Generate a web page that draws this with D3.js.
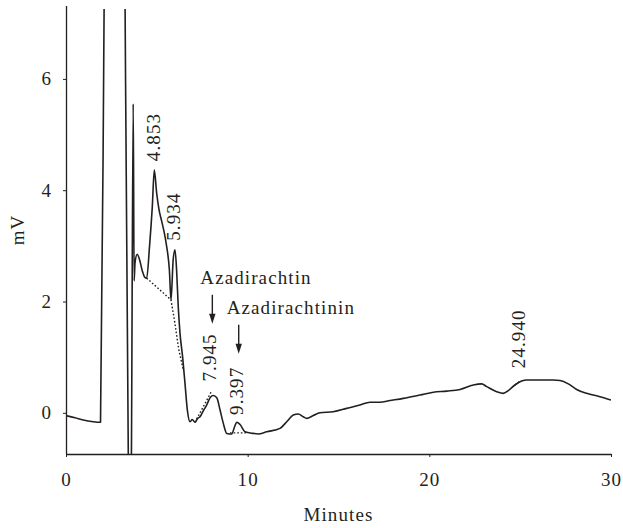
<!DOCTYPE html>
<html>
<head>
<meta charset="utf-8">
<script src="https://cdn.jsdelivr.net/npm/d3@7"></script>
<style>
  html, body { margin: 0; padding: 0; background: #fff; }
  svg text { font-family: "Liberation Serif", "Times New Roman", serif; fill: #231f20; letter-spacing: 1.1px; }
</style>
</head>
<body>
<svg id="chart" width="623" height="528"></svg>
<script>
// ---- data ----
const retentionMin = [0,0.5,0.95,1.5,1.9,2.1,2.7,3.25,3.43,3.5,3.6,3.7,3.75,3.8,3.92,4.05,4.2,4.35,4.44,4.6,4.75,4.86,4.99,5.12,5.27,5.4,5.54,5.69,5.78,5.9,6.0,6.09,6.18,6.27,6.42,6.55,6.68,6.83,6.95,7.1,7.25,7.38,7.55,7.74,7.95,8.11,8.3,8.48,8.66,8.85,9.12,9.28,9.4,9.58,9.85,10.31,10.58,11.05,11.78,12.15,12.51,12.79,13.06,13.25,13.61,13.98,14.71,15.45,16.18,16.73,17.28,17.83,18.57,19.49,20.22,20.96,21.69,22.42,22.88,23.16,23.71,24.07,24.35,24.71,25.08,25.36,26.82,27.19,27.65,28.11,28.66,29.39,30];
const signalMV   = [-0.05,-0.09,-0.13,-0.16,-0.17,7.4,40,7.4,-0.8,-3,-0.8,5.55,2.37,2.7,2.85,2.75,2.55,2.43,2.42,3.0,3.7,4.36,3.95,3.65,3.44,3.25,2.99,2.57,2.03,2.75,2.93,2.55,1.9,1.45,1.0,0.53,0.05,-0.16,-0.12,-0.17,-0.1,-0.07,0.03,0.14,0.28,0.31,0.27,0.05,-0.19,-0.37,-0.38,-0.25,-0.17,-0.21,-0.34,-0.37,-0.38,-0.34,-0.28,-0.16,-0.04,-0.02,-0.07,-0.1,-0.05,0,0.02,0.08,0.14,0.19,0.19,0.22,0.26,0.32,0.37,0.39,0.42,0.5,0.52,0.47,0.38,0.35,0.4,0.5,0.57,0.59,0.59,0.58,0.52,0.42,0.35,0.29,0.23];

// integration baselines (dotted)
const baselineA = [[4.44,2.42],[5.78,2.03],[6.0,1.6],[6.2,1.15],[6.45,0.78]];
const baselineB = [[7.1,-0.17],[8.0,0.38]];
const baselineC = [[9.03,-0.36],[9.95,-0.36]];
const baselineD = [[24.71,0.5],[25.0,0.57]];

// peak retention-time labels
const peakLabels = ["4.853","5.934","7.945","9.397","24.940"];
const peakTimes  = [4.853, 5.934, 7.945, 9.397, 24.940];
const peakTops   = [4.36, 2.93, 0.40, -0.20, 0.64];

// compound annotations
const compoundNames  = ["Azadirachtin","Azadirachtinin"];
const compoundTimes  = [7.945, 9.397];
const compoundArrowTip = [1.6, 1.06];

const xTicks = [0,10,20,30];
const yTicks = [0,2,4,6];
const xTitle = "Minutes";
const yTitle = "mV";

// ---- layout ----
const svg = d3.select("#chart");
const mLeft = 66, mRight = 611, mTop = 6, mBottom = 454;
const ink = "#231f20";

const x = d3.scaleLinear().domain([0,30]).range([mLeft,mRight]);
const y = d3.scaleLinear().domain([-0.74,7.31]).range([mBottom,mTop]);

// clip
svg.append("defs").append("clipPath").attr("id","plotclip")
  .append("rect").attr("x",mLeft).attr("y",9).attr("width",mRight-mLeft).attr("height",mBottom-9);

// axes
const xAxis = svg.append("g").attr("transform",`translate(0,${mBottom})`)
  .call(d3.axisBottom(x).tickValues(xTicks).tickFormat(d3.format("d")).tickSize(3).tickSizeOuter(0).tickPadding(16));
const yAxis = svg.append("g").attr("transform",`translate(${mLeft},0)`)
  .call(d3.axisLeft(y).tickValues(yTicks).tickFormat(d3.format("d")).tickSize(3).tickSizeOuter(0).tickPadding(11));
[xAxis,yAxis].forEach(g=>{
  g.selectAll("path.domain").attr("stroke",ink).attr("stroke-width",1.3);
  g.selectAll(".tick line").attr("stroke",ink).attr("stroke-width",1);
  g.selectAll(".tick text").attr("font-size",19).attr("fill",ink)
   .style("font-family","'Liberation Serif', serif");
});
yAxis.select("path.domain").attr("d",`M0.5,${mTop}V${mBottom}`);

// axis titles
svg.append("text").attr("x",(mLeft+mRight)/2).attr("y",521).attr("text-anchor","middle")
  .attr("font-size",19).text(xTitle);
svg.append("text").attr("transform",`translate(24,${(mTop+mBottom)/2}) rotate(-90)`)
  .attr("text-anchor","middle").attr("font-size",19).text(yTitle);

// chromatogram
const pts = retentionMin.map((t,i)=>[t,signalMV[i]]);
const line = d3.line().x(d=>x(d[0])).y(d=>y(d[1])).curve(d3.curveMonotoneX);
const plot = svg.append("g").attr("clip-path","url(#plotclip)");
plot.append("path").attr("d",line(pts)).attr("fill","none")
  .attr("stroke",ink).attr("stroke-width",1.6).attr("stroke-linejoin","round");

// baselines
const bline = d3.line().x(d=>x(d[0])).y(d=>y(d[1]));
[baselineA,baselineB,baselineC,baselineD].forEach(b=>{
  plot.append("path").attr("d",bline(b)).attr("fill","none")
    .attr("stroke",ink).attr("stroke-width",1.4).attr("stroke-dasharray","1.6,2");
});

// peak labels (rotated)
peakLabels.forEach((lab,i)=>{
  const px = x(peakTimes[i]) + 6, py = y(peakTops[i]) - 9;
  svg.append("text").attr("transform",`translate(${px},${py}) rotate(-90)`)
    .attr("text-anchor","start").attr("font-size",19).text(lab);
});

// compound annotations with arrows
compoundNames.forEach((name,i)=>{
  const ax = x(compoundTimes[i]) + 2;
  const tipY = y(compoundArrowTip[i]);
  const startY = tipY - 29;
  svg.append("text").attr("x",ax-12).attr("y",startY-11).attr("font-size",19).text(name);
  svg.append("line").attr("x1",ax).attr("x2",ax).attr("y1",startY).attr("y2",tipY-8)
    .attr("stroke",ink).attr("stroke-width",1.4);
  svg.append("path").attr("d",`M${ax-3.2},${tipY-10}L${ax+3.2},${tipY-10}L${ax},${tipY}Z`).attr("fill",ink);
});
</script>
</body>
</html>
